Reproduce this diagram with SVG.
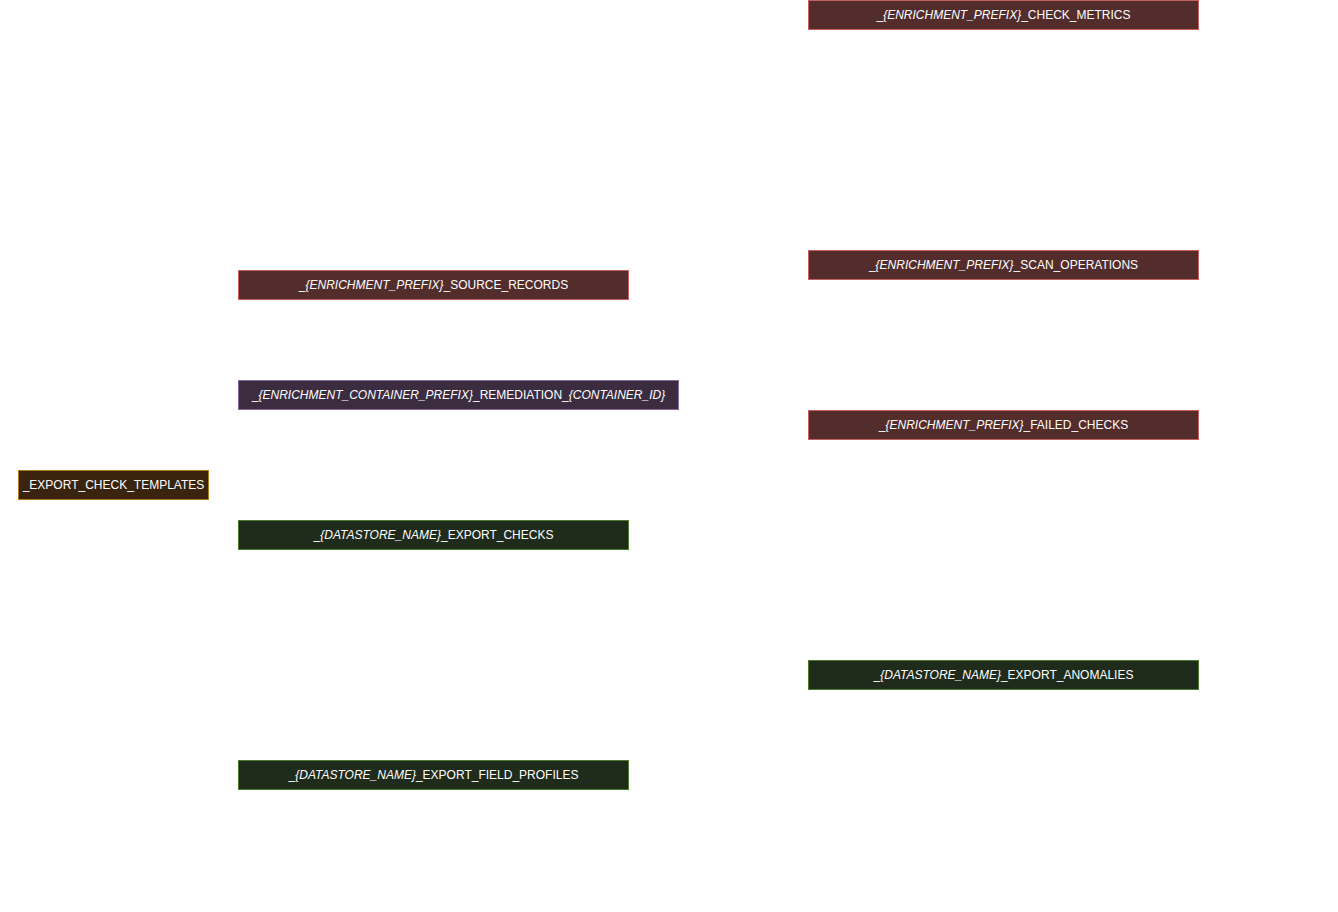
<svg xmlns="http://www.w3.org/2000/svg" width="1338" height="912" viewBox="0 0 1338 912">
<style>
.red{fill:#522d2b;stroke:#c86060;stroke-width:1}
.pur{fill:#3b2c40;stroke:#8a6a9c;stroke-width:1}
.brn{fill:#3a2410;stroke:#b07a20;stroke-width:1}
.grn{fill:#1f2c1c;stroke:#4b7a30;stroke-width:1}
text{font-family:"Liberation Sans",Arial,sans-serif;font-size:12px;fill:#ffffff;text-anchor:middle}
.i{font-style:italic}
</style>
<rect width="1338" height="912" fill="#ffffff"/>
<g id="connectors"></g>
<g id="check_metrics"><rect class="red" x="808.5" y="0.5" width="390" height="29"/><text x="1003.5" y="19"><tspan>_</tspan><tspan class="i">{ENRICHMENT_PREFIX}</tspan><tspan>_CHECK_METRICS</tspan></text></g>
<g id="scan_operations"><rect class="red" x="808.5" y="250.5" width="390" height="29"/><text x="1003.5" y="269"><tspan>_</tspan><tspan class="i">{ENRICHMENT_PREFIX}</tspan><tspan>_SCAN_OPERATIONS</tspan></text></g>
<g id="failed_checks"><rect class="red" x="808.5" y="410.5" width="390" height="29"/><text x="1003.5" y="429"><tspan>_</tspan><tspan class="i">{ENRICHMENT_PREFIX}</tspan><tspan>_FAILED_CHECKS</tspan></text></g>
<g id="export_anomalies"><rect class="grn" x="808.5" y="660.5" width="390" height="29"/><text x="1003.5" y="679"><tspan>_</tspan><tspan class="i">{DATASTORE_NAME}</tspan><tspan>_EXPORT_ANOMALIES</tspan></text></g>
<g id="source_records"><rect class="red" x="238.5" y="270.5" width="390" height="29"/><text x="433.5" y="289"><tspan>_</tspan><tspan class="i">{ENRICHMENT_PREFIX}</tspan><tspan>_SOURCE_RECORDS</tspan></text></g>
<g id="remediation"><rect class="pur" x="238.5" y="380.5" width="440" height="29"/><text x="458.5" y="399"><tspan>_</tspan><tspan class="i">{ENRICHMENT_CONTAINER_PREFIX}</tspan><tspan>_REMEDIATION_</tspan><tspan class="i">{CONTAINER_ID}</tspan></text></g>
<g id="export_check_templates"><rect class="brn" x="18.5" y="470.5" width="190" height="29"/><text x="113.5" y="489">_EXPORT_CHECK_TEMPLATES</text></g>
<g id="export_checks"><rect class="grn" x="238.5" y="520.5" width="390" height="29"/><text x="433.5" y="539"><tspan>_</tspan><tspan class="i">{DATASTORE_NAME}</tspan><tspan>_EXPORT_CHECKS</tspan></text></g>
<g id="export_field_profiles"><rect class="grn" x="238.5" y="760.5" width="390" height="29"/><text x="433.5" y="779"><tspan>_</tspan><tspan class="i">{DATASTORE_NAME}</tspan><tspan>_EXPORT_FIELD_PROFILES</tspan></text></g>
</svg>
